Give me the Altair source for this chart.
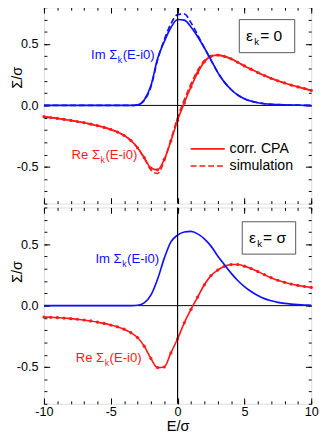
import altair as alt
import pandas as pd

FONT = "Liberation Sans"
BLUE = "#1010ff"
RED = "#ff1a1a"

# ---------------- data ----------------
E = [-10.0, -9.5, -9.0, -8.5, -8.0, -7.5, -7.0, -6.5, -6.0, -5.5, -5.0, -4.5, -4.0, -3.5,
     -3.0, -2.5, -2.0, -1.5, -1.0, -0.5, 0.0, 0.5, 1.0, 1.5, 2.0, 2.5, 3.0, 3.5, 4.0, 4.5,
     5.0, 5.5, 6.0, 6.5, 7.0, 7.5, 8.0, 8.5, 9.0, 9.5, 10.0]

# panel 1: eps_k = 0
im0_cpa = [0]*14 + [0.005, 0.045, 0.16, 0.38, 0.52, 0.635, 0.70, 0.695, 0.64, 0.56, 0.47, 0.37,
                    0.27, 0.19, 0.13, 0.085, 0.055, 0.035, 0.022, 0.014, 0.009, 0.006, 0.004,
                    0.003, 0.002, 0.001, 0.001]
im0_sim = [0]*14 + [0.005, 0.04, 0.15, 0.37, 0.535, 0.665, 0.74, 0.745, 0.675, 0.575, 0.47, 0.37,
                    0.27, 0.19, 0.13, 0.085, 0.055, 0.035, 0.022, 0.014, 0.009, 0.006, 0.004,
                    0.003, 0.002, 0.001, 0.001]
re0_cpa = [-0.092, -0.099, -0.106, -0.114, -0.122, -0.131, -0.141, -0.152, -0.165, -0.179,
           -0.196, -0.217, -0.245, -0.285, -0.345, -0.425, -0.51, -0.525, -0.44, -0.29,
           -0.12, 0.02, 0.15, 0.265, 0.355, 0.40, 0.41, 0.40, 0.38, 0.352, 0.322, 0.295,
           0.268, 0.243, 0.221, 0.201, 0.183, 0.166, 0.151, 0.137, 0.122]
re0_sim = [-0.092, -0.099, -0.106, -0.114, -0.122, -0.131, -0.141, -0.152, -0.165, -0.179,
           -0.196, -0.217, -0.245, -0.285, -0.345, -0.43, -0.525, -0.555, -0.45, -0.28,
           -0.10, 0.045, 0.175, 0.285, 0.365, 0.405, 0.41, 0.40, 0.38, 0.352, 0.322, 0.295,
           0.268, 0.243, 0.221, 0.201, 0.183, 0.166, 0.151, 0.137, 0.122]

# panel 2: eps_k = sigma
im1 = [0]*14 + [0.003, 0.022, 0.085, 0.215, 0.385, 0.52, 0.575, 0.60, 0.605, 0.585, 0.545,
                0.485, 0.405, 0.335, 0.265, 0.205, 0.155, 0.115, 0.082, 0.057, 0.04, 0.027,
                0.018, 0.012, 0.008, 0.005, 0.003]
re1 = [-0.093, -0.095, -0.098, -0.101, -0.106, -0.111, -0.117, -0.125, -0.134, -0.145,
       -0.158, -0.173, -0.192, -0.22, -0.26, -0.33, -0.43, -0.505, -0.50, -0.385, -0.27,
       -0.14, -0.03, 0.07, 0.17, 0.245, 0.29, 0.32, 0.335, 0.335, 0.322, 0.302, 0.278,
       0.252, 0.228, 0.207, 0.19, 0.176, 0.165, 0.156, 0.148]

x_major = [-10, -5, 0, 5, 10]
x_minor = list(range(-10, 11))
y_major = [-0.5, 0.0, 0.5]
y_minor = [-0.8, -0.7, -0.6, -0.5, -0.4, -0.3, -0.2, -0.1, 0.0, 0.1, 0.2, 0.3, 0.4, 0.5, 0.6, 0.7, 0.8]

W, H = 275, 202
XS = alt.Scale(domain=[-10, 10], nice=False, zero=False)
YS = alt.Scale(domain=[-0.8, 0.8], nice=False, zero=False)
one = pd.DataFrame({"E": [0.0], "v": [0.0]})
MINUS = "\u2212"


def line(vals, color, dash=None):
    df = pd.DataFrame({"E": E, "v": vals})
    kw = dict(color=color, strokeWidth=1.7, interpolate="monotone")
    if dash:
        kw["strokeDash"] = dash
    return alt.Chart(df).mark_line(**kw).encode(
        x=alt.X("E:Q", scale=XS, axis=None), y=alt.Y("v:Q", scale=YS, axis=None))


def dots(vals, color):
    df = pd.DataFrame({"E": E, "v": vals})
    return alt.Chart(df).mark_circle(color=color, size=11, opacity=1).encode(
        x=alt.X("E:Q", scale=XS, axis=None), y=alt.Y("v:Q", scale=YS, axis=None))


def carrier(xaxis, yaxis):
    return alt.Chart(one).mark_point(opacity=0).encode(
        x=alt.X("E:Q", scale=XS, axis=xaxis), y=alt.Y("v:Q", scale=YS, axis=yaxis))


def axes(show_x_labels, title_y):
    common = dict(domain=False, tickColor="black", tickWidth=1, grid=False, minExtent=0)
    xlab = dict(labels=True, labelFontSize=13, labelPadding=2, labelColor="black",
                labelFont=FONT, title="E/\u03c3", titleFontSize=15, titleFont=FONT,
                titleFontWeight="normal", titlePadding=0, titleColor="black",
                labelExpr="replace(format(datum.value, 'd'), '" + MINUS + "', '-')",
                labelFlush=False, labelOverlap=False) if show_x_labels else dict(labels=False, title=None)
    xb_major = alt.Axis(orient="bottom", values=x_major, tickSize=6, offset=-6, **xlab, **common)
    xb_minor = alt.Axis(orient="bottom", values=x_minor, tickSize=3, offset=-3, labels=False, title=None, **common)
    xt_major = alt.Axis(orient="top", values=x_major, tickSize=6, offset=-6, labels=False, title=None, **common)
    xt_minor = alt.Axis(orient="top", values=x_minor, tickSize=3, offset=-3, labels=False, title=None, **common)
    yl_major = alt.Axis(orient="left", values=y_major, tickSize=6, offset=-6, labelPadding=6,
                        labelFontSize=13, labelFont=FONT, labelColor="black",
                        labelExpr="replace(format(datum.value, '.1f'), '" + MINUS + "', '-')",
                        title="\u03a3/\u03c3", titleFontSize=15, titleFont=FONT,
                        titleFontWeight="normal", titleColor="black", titleX=-34, titleY=title_y,
                        titleBaseline="middle", **common)
    yl_minor = alt.Axis(orient="left", values=y_minor, tickSize=3, offset=-3, labels=False, title=None, **common)
    yr_major = alt.Axis(orient="right", values=y_major, tickSize=6, offset=-6, labels=False, title=None, **common)
    yr_minor = alt.Axis(orient="right", values=y_minor, tickSize=3, offset=-3, labels=False, title=None, **common)
    return [carrier(xb_major, yl_major), carrier(xb_minor, yl_minor),
            carrier(xt_major, yr_major), carrier(xt_minor, yr_minor)]


def txt(s, x, y, color, size, align="left", baseline="alphabetic"):
    return alt.Chart(one).mark_text(text=s, color=color, fontSize=size, font=FONT,
                                    align=align, baseline=baseline).encode(
        x=alt.value(x), y=alt.value(y))


def sigma_label(prefix, ax, by, color):
    return [txt(prefix + " \u03a3", ax, by, color, 13.5, align="right"),
            txt("k", ax + 0.5, by + 4, color, 9),
            txt("(E-i0)", ax + 5.5, by, color, 13.5)]


def box(x1, x2, y1, y2, valtext, ty):
    rect = alt.Chart(one).mark_rect(fill="white", stroke="#555555", strokeWidth=1).encode(
        x=alt.value(x1), x2=alt.value(x2), y=alt.value(y1), y2=alt.value(y2))
    return [rect,
            txt("\u03b5", x1 + 7, ty, "black", 16),
            txt("k", x1 + 15.5, ty + 4.5, "black", 10),
            txt("= " + valtext, x1 + 21.5, ty, "black", 16)]


def anchor(px, py):
    # invisible layout anchor fixing the chart's outer bounds
    return alt.Chart(one).mark_rect(fill="white", fillOpacity=0, strokeOpacity=0).encode(
        x=alt.value(px), x2=alt.value(px + 1), y=alt.value(py), y2=alt.value(py + 1))


def hzero():
    return alt.Chart(one).mark_rule(color="black", strokeWidth=1).encode(
        y=alt.Y("v:Q", scale=YS, axis=None))


def vzero():
    return alt.Chart(one).mark_rule(color="black", strokeWidth=1.2).encode(
        x=alt.X("E:Q", scale=XS, axis=None))


def legend_line(x1, x2, y, dash=None):
    kw = dict(color=RED, strokeWidth=1.7)
    if dash:
        kw["strokeDash"] = dash
    return alt.Chart(one).mark_rule(**kw).encode(x=alt.value(x1), x2=alt.value(x2), y=alt.value(y))


top_layers = (
    axes(False, 72)
    + [anchor(-50, -20), hzero(),
       line(re0_sim, RED, [6, 3]), line(re0_cpa, RED), dots(re0_cpa, RED),
       line(im0_sim, BLUE, [6, 3]), line(im0_cpa, BLUE),
       vzero()]
    + sigma_label("Im", 75.5, 53, BLUE)
    + sigma_label("Re", 57.7, 156.5, RED)
    + [legend_line(151, 186, 145.7), legend_line(151, 186, 163.3, [6, 3]),
       txt("corr. CPA", 191, 145.7, "black", 14.5, baseline="middle"),
       txt("simulation", 191, 163.3, "black", 14.5, baseline="middle")]
    + box(201, 258, 12.7, 46.7, "0", 34.5)
)

bottom_layers = (
    axes(True, 66)
    + [anchor(-50, 100), hzero(), line(re1, RED), dots(re1, RED), line(im1, BLUE), vzero()]
    + sigma_label("Im", 80, 57, BLUE)
    + sigma_label("Re", 62, 158.7, RED)
    + box(204, 259, 14.7, 48, "\u03c3", 36.5)
)

top = alt.layer(*top_layers).properties(width=W, height=H).resolve_axis(x="independent", y="independent")
bottom = alt.layer(*bottom_layers).properties(width=W, height=H).resolve_axis(x="independent", y="independent")

chart = alt.vconcat(top, bottom, spacing=0).properties(
    padding={"left": -14, "top": -28, "right": 0, "bottom": 0}
).configure_view(stroke="black", strokeWidth=1).configure(font=FONT)

chart.save("out.html", embed_options={"renderer": "svg", "actions": False})
